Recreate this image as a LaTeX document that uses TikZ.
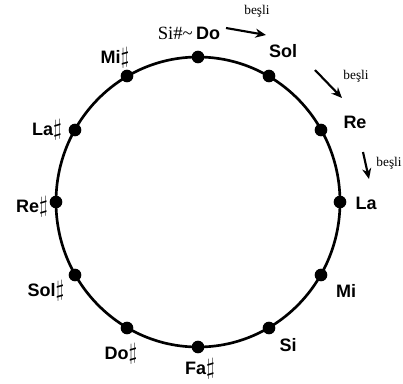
\documentclass[tikz,border=0pt]{standalone}
\usepackage{fontspec}
\setmainfont{Liberation Serif}
\setsansfont{Liberation Sans}
\usetikzlibrary{arrows.meta,positioning}

\newcommand{\shp}{{\fontsize{17}{17}\selectfont$\sharp$}}

\begin{document}
\begin{tikzpicture}[
  x=0.75pt, y=-0.75pt,
  dot/.style={circle, fill=black, inner sep=0pt, minimum size=9.5pt},
  note/.style={font=\sffamily\bfseries\fontsize{13.5}{15}\selectfont, inner sep=0pt},
  fifth/.style={font=\fontsize{10}{11}\selectfont, inner sep=0pt},
  arr/.style={-{Stealth[length=2.8mm, width=2.4mm]}, line width=1.6pt},
]
\useasboundingbox (0,0) rectangle (403,383);
\draw[line width=2pt] (198,202) ellipse[x radius=142, y radius=145];
% dots, clockwise from the top
\node[dot] (do)  at (198,57) {};
\node[dot] (sol) at (269,76) {};
\node[dot] (re)  at (321,130) {};
\node[dot] (la)  at (340,202) {};
\node[dot] (mi)  at (321,275) {};
\node[dot] (si)  at (269,328) {};
\node[dot] (fad) at (198,347) {};
\node[dot] (dod) at (127,328) {};
\node[dot] (sold) at (75,275) {};
\node[dot] (red) at (56,202) {};
\node[dot] (lad) at (75,130) {};
\node[dot] (mid) at (127,76) {};
% note names
\node[note] (ldo) at (208,33) {Do};
\node[font=\fontsize{14}{16}\selectfont, inner sep=0pt, left=2pt of ldo] (lsi) {Si\#\textasciitilde};
\node[note] (lsol) at (283,51) {Sol};
\node[note] (lre) at (355,122) {Re};
\node[note] (lla) at (366,203) {La};
\node[note] (lmi) at (346,291) {Mi};
\node[note] (lsi2) at (288,345) {Si};
\node[note] (lfad) at (200,369) {Fa\shp};
\node[note] (ldod) at (121,354) {Do\shp};
\node[note] (lsold) at (46,291) {Sol\shp};
\node[note] (lred) at (32,207) {Re\shp};
\node[note] (llad) at (47,130) {La\shp};
\node[note] (lmid) at (115,58) {Mi\shp};
% fifths
\coordinate (a1s) at (226,28);
\coordinate (a1e) at (266,35);
\coordinate (a2s) at (315,70);
\coordinate (a2e) at (342,98);
\coordinate (a3s) at (363,152);
\coordinate (a3e) at (369,179);
\draw[arr] (a1s) -- (a1e);
\draw[arr] (a2s) -- (a2e);
\draw[arr] (a3s) -- (a3e);
\node[fifth] (b1) at (257,11) {beşli};
\node[fifth] (b2) at (356,76) {beşli};
\node[fifth] (b3) at (389,163) {beşli};
\end{tikzpicture}
\end{document}
